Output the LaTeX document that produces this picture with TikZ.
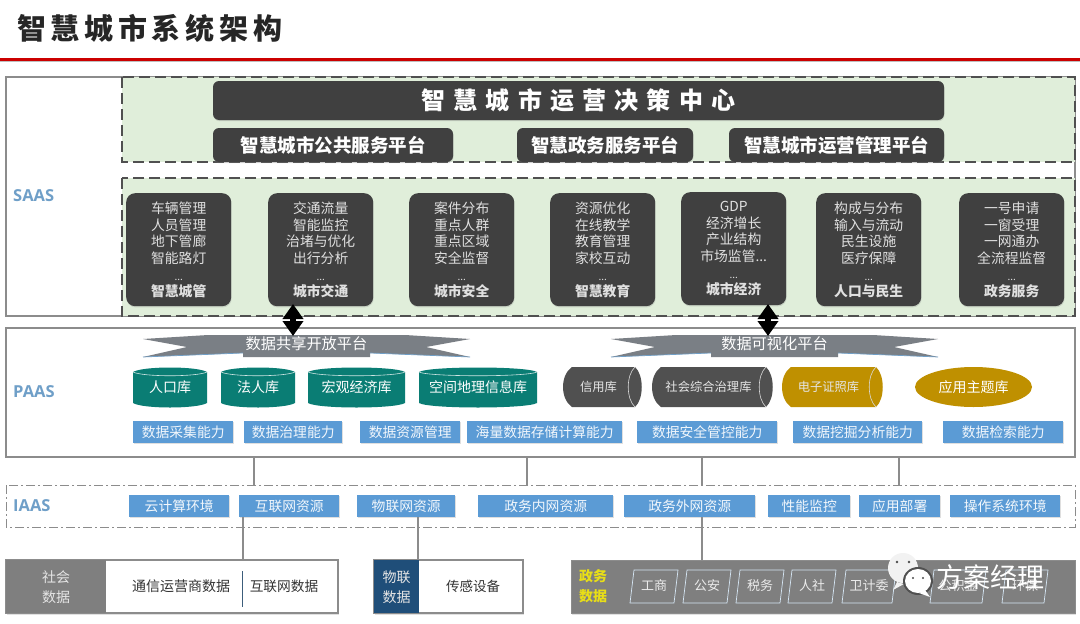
\documentclass[tikz,border=0pt]{standalone}
\usepackage{fontspec}
\setmainfont{Noto Sans CJK SC}
\newfontfamily\latinf{Open Sans}
\usetikzlibrary{shapes.geometric,arrows.meta,calc,shadows}
\definecolor{dk}{HTML}{404040}
\definecolor{grn}{HTML}{E0EEDA}
\definecolor{teal1}{HTML}{0A7D74}
\definecolor{gold1}{HTML}{BF9000}
\definecolor{blu}{HTML}{5B9BD5}
\definecolor{lab}{HTML}{6F9FC8}
\definecolor{frameg}{HTML}{8C8C8C}
\definecolor{navy1}{HTML}{1F4E79}
\definecolor{gr1}{HTML}{7F7F7F}
\definecolor{gr2}{HTML}{505050}
\definecolor{bang}{HTML}{7A7F85}
\tikzset{
 px/.style={x=1pt,y=-1pt},
 layerbox/.style={draw=frameg,line width=1.3pt,fill=white},
 greenbox/.style={draw=gr2,line width=1.3pt,fill=grn,dash pattern=on 11pt off 5pt},
 dkbox/.style={rounded corners=6pt,fill=dk,text=white,inner sep=0,font=\bfseries,drop shadow={shadow xshift=0.5pt,shadow yshift=-1.2pt,opacity=.25}},
 card/.style={rounded corners=9pt,fill=dk,text=white!88!black,inner sep=0,minimum width=105pt,minimum height=113pt,font=\fontsize{13.8}{16.5}\selectfont,align=center,anchor=north west,drop shadow={shadow xshift=0.5pt,shadow yshift=-1.2pt,opacity=.25}},
 bl/.style={fill=blu,text=white!92!blu,inner sep=0,anchor=north west,font=\fontsize{13.8}{15}\selectfont,drop shadow={shadow xshift=0.5pt,shadow yshift=-1pt,opacity=.25}},
 lname/.style={text=lab,font=\latinf\bfseries\fontsize{16.5}{18}\selectfont,anchor=west,inner sep=0},
 cyltxt/.style={text=white,inner sep=0,font=\fontsize{14}{15}\selectfont},
 link/.style={draw=frameg,line width=1.6pt},
 dbl/.style={line width=6pt,{Triangle[length=15pt,width=20pt]}-{Triangle[length=15pt,width=20pt]}},
 para/.style={draw=white!75!blu,line width=.7pt},
 ptxt/.style={text=white!92!black,inner sep=0,font=\fontsize{13}{15}\selectfont},
 dtxt/.style={inner sep=0,text=black!80},
}
\newcommand{\bx}[6][]{\node[#2,#1,minimum width=#5pt-#3pt,minimum height=#6pt-#4pt] at ({(#3+#5)/2},{(#4+#6)/2})}
\begin{document}
\begin{tikzpicture}[px]
\useasboundingbox (0,0) rectangle (1080,624);
\fill[white] (0,0) rectangle (1080,624);
% title
\node[inner sep=0,anchor=west,text=black!85,font=\bfseries\fontsize{29}{32}\selectfont] (title) at (17,28) {智\hspace{4.7pt}慧\hspace{4.7pt}城\hspace{4.7pt}市\hspace{4.7pt}系\hspace{4.7pt}统\hspace{4.7pt}架\hspace{4.7pt}构};
\fill[black!25] (0,60) rectangle (1080,62);
\fill[red!80!black] (0,58) rectangle (1080,60.5);
% SAAS
\draw[layerbox] (6,77) rectangle (1075,316);
\node[lname] (saas) at (13,196) {SAAS};
\draw[greenbox] (122,77) rectangle (1075,162);
\draw[greenbox] (122,178) rectangle (1075,316);
\bx[name=bigc,font=\bfseries\fontsize{24}{28}\selectfont]{dkbox}{213}{81}{944}{120} {智\hspace{8.2pt}慧\hspace{8.2pt}城\hspace{8.2pt}市\hspace{8.2pt}运\hspace{8.2pt}营\hspace{8.2pt}决\hspace{8.2pt}策\hspace{8.2pt}中\hspace{8.2pt}心};
\bx[name=p1,font=\bfseries\fontsize{18.5}{22}\selectfont]{dkbox}{213}{128}{453}{162} {智慧城市公共服务平台};
\bx[name=p2,font=\bfseries\fontsize{18.5}{22}\selectfont]{dkbox}{517}{128}{693}{162} {智慧政务服务平台};
\bx[name=p3,font=\bfseries\fontsize{18.5}{22}\selectfont]{dkbox}{729}{128}{944}{162} {智慧城市运营管理平台};
\newcommand{\cardtxt}[6]{#1\\#2\\#3\\#4\\[1pt]{\fontsize{10}{11}\selectfont #5}\\[-1pt]{\bfseries #6}}
\node[card] (c1) at (126,193) {\cardtxt{车辆管理}{人员管理}{地下管廊}{智能路灯}{...}{智慧城管}};
\node[card] (c2) at (268,193) {\cardtxt{交通流量}{智能监控}{治堵与优化}{出行分析}{...}{城市交通}};
\node[card] (c3) at (409,193) {\cardtxt{案件分布}{重点人群}{重点区域}{安全监督}{...}{城市安全}};
\node[card] (c4) at (550,193) {\cardtxt{资源优化}{在线教学}{教育管理}{家校互动}{...}{智慧教育}};
\node[card] (c5) at (681,192) {\cardtxt{GDP}{经济增长}{产业结构}{市场监管...}{...}{城市经济}};
\node[card] (c6) at (816,193) {\cardtxt{构成与分布}{输入与流动}{民生设施}{医疗保障}{...}{人口与民生}};
\node[card] (c7) at (959,193) {\cardtxt{一号申请}{一窗受理}{一网通办}{全流程监督}{...}{政务服务}};
% PAAS
\draw[layerbox] (6,328) rectangle (1075,457);
\node[lname] (paas) at (13,392) {PAAS};
% banners
\newcommand{\banner}[2]{%
 \fill[bang,xshift=#1pt] (0,339) -- (65,335) -- (262,335) -- (327,339) -- (283,347) -- (327,357) -- (227,353) -- (227,357)-- (100,357) -- (100,353) -- (0,357) -- (44,347) -- cycle;
 \draw[lab,line width=.7pt,xshift=#1pt] (0,357) -- (100,353) (227,353) -- (327,357);
 \node[text=white,inner sep=0,font=\fontsize{15.2}{17}\selectfont] (#2) at (#1+163.5,344)}
\banner{143}{b1} {数据共享开放平台};
\banner{611}{b2} {数据可视化平台};
% cylinders
\newcommand{\tcyl}[4]{%
 \fill[teal1] (#2,372) .. controls (#2+10,366) and (#3-10,366) .. (#3,372) -- (#3,403) .. controls (#3-10,409) and (#2+10,409) .. (#2,403) -- cycle;
 \draw[white!80!teal1,line width=.6pt] (#2,372) .. controls (#2+10,377) and (#3-10,377) .. (#3,372);
 \node[cyltxt] (#1) at ({(#2+#3)/2},387) {#4};}
\tcyl{d1}{133}{207}{人口库}
\tcyl{d2}{221}{295}{法人库}
\tcyl{d3}{308}{405}{宏观经济库}
\tcyl{d4}{419}{537}{空间地理信息库}
\newcommand{\hcyl}[5]{% name,x1,x2,color,text
 \fill[#4] (#2+9,367) -- (#3-7,367) .. controls (#3+2,375) and (#3+2,399) .. (#3-7,407) -- (#2+9,407) .. controls (#2-3,399) and (#2-3,375) .. (#2+9,367) -- cycle;
 \draw[white!85!black,line width=.6pt] (#3-7,367) .. controls (#3-16,375) and (#3-16,399) .. (#3-7,407);
 \node[text=white!90!black,inner sep=0,font=\fontsize{12.3}{13}\selectfont] (#1) at ({(#2+#3)/2-4},387) {#5};}
\hcyl{e1}{563}{642}{gr2}{信用库}
\hcyl{e2}{652}{773}{gr2}{社会综合治理库}
\hcyl{e3}{782}{883}{gold1}{电子证照库}
\node[ellipse,fill=gold1,text=white,inner sep=0,minimum width=117pt,minimum height=40pt,font=\fontsize{14}{15}\selectfont] (e4) at (973.5,387) {应用主题库};
% capability boxes
\newcommand{\capbox}[4]{\node[bl,minimum width=#3pt-#2pt,minimum height=22pt] (#1) at (#2,421) {#4};}
\capbox{k1}{133}{233}{数据采集能力}
\capbox{k2}{244}{342}{数据治理能力}
\capbox{k3}{360}{460}{数据资源管理}
\capbox{k4}{467}{622}{海量数据存储计算能力}
\capbox{k5}{637}{777}{数据安全管控能力}
\capbox{k6}{793}{922}{数据挖掘分析能力}
\capbox{k7}{943}{1063}{数据检索能力}
% IAAS
\draw[frameg,line width=.9pt,dash pattern=on 9pt off 3pt on 2pt off 3pt] (6,485) rectangle (1075,527);
\node[lname] (iaas) at (13,506) {IAAS};
\newcommand{\resbox}[4]{\node[bl,minimum width=#3pt-#2pt,minimum height=22pt] (#1) at (#2,495) {#4};}
\resbox{r1}{129}{229}{云计算环境}
\resbox{r2}{239}{339}{互联网资源}
\resbox{r3}{357}{455}{物联网资源}
\resbox{r4}{478}{613}{政务内网资源}
\resbox{r5}{624}{755}{政务外网资源}
\resbox{r6}{768}{850}{性能监控}
\resbox{r7}{859}{940}{应用部署}
\resbox{r8}{950}{1060}{操作系统环境}
% bottom
\fill[black!12] (7,561) rectangle (339,615);
\fill[black!12] (375,561) rectangle (524,615);
\fill[black!12] (572,561) rectangle (1076,615);
\draw[frameg,line width=1.2pt,fill=white] (6,560) rectangle (338,613);
\node[fill=gr1,text=white!90!black,inner sep=0,minimum width=100pt,minimum height=53pt,align=center,anchor=north west,font=\fontsize{14}{20}\selectfont] (s0) at (6,560) {社会\\数据};
\node[dtxt,font=\fontsize{14}{15}\selectfont] (s1) at (181,586) {通信运营商数据};
\node[dtxt,font=\fontsize{13.7}{15}\selectfont] (s2) at (284,586) {互联网数据};
\coordinate (dvt) at (242,571); \coordinate (dvb) at (242,607);
\draw[navy1!70!gray,line width=1pt] (dvt) -- (dvb);
\draw[frameg,line width=1.2pt,fill=white] (374,560) rectangle (523,613);
\node[fill=navy1,text=white!90!black,inner sep=0,minimum width=45pt,minimum height=53pt,align=center,anchor=north west,font=\fontsize{14}{20}\selectfont] (w0) at (374,560) {物联\\数据};
\node[dtxt,font=\fontsize{13.5}{15}\selectfont] (w1) at (473,586) {传感设备};
\node[fill=gr1,draw=frameg,inner sep=0,minimum width=504pt,minimum height=53pt,anchor=north west] (g) at (571,560) {};
\node[text=yellow!90!black,inner sep=0,align=center,font=\bfseries\fontsize{14}{20}\selectfont] (g0) at (593,586) {政务\\数据};
\newcommand{\pg}[4]{\draw[para] (#2,603) -- (#2+4,570) -- (#3,570) -- (#3-4,603) -- cycle;
 \node[ptxt] (#1) at ({(#2+#3)/2},586) {#4};}
\pg{g1}{630}{678}{工商}
\pg{g2}{683}{731}{公安}
\pg{g3}{736}{784}{税务}
\pg{g4}{788}{836}{人社}
\pg{g5}{842}{896}{卫计委}
\pg{g6}{930}{986}{公积金}
\pg{g7}{1002}{1048}{环保}
% links
\coordinate (q1) at (254,457); \coordinate (q2) at (527,457); \coordinate (q3) at (702,457); \coordinate (q4) at (899,457);
\coordinate (i1) at (254,485); \coordinate (i2) at (527,485); \coordinate (i3) at (702,485); \coordinate (i4) at (899,485);
\draw[link] (q1) -- (i1); \draw[link] (q2) -- (i2); \draw[link] (q3) -- (i3); \draw[link] (q4) -- (i4);
\draw[link] (r2.south west) ++(4,0) coordinate (l1) -- (l1 |- s0.north);
\draw[link] (r3.south) ++(12,0) coordinate (l2) -- (l2 |- w0.north);
\draw[link] (r5.south) ++(12.5,0) coordinate (l3) -- (l3 |- g.north);
% arrows
\coordinate (a1t) at (293,304); \coordinate (a1b) at (293,336);
\coordinate (a2t) at (768,304); \coordinate (a2b) at (768,336);
\draw[dbl] (a1t) -- (a1b);
\draw[dbl] (a2t) -- (a2b);
% watermark
\fill[white!95!black] (903,568) circle (15pt);
\fill[white!95!black] (897,582) -- (893,590) -- (904,584) -- cycle;
\fill[gr2] (918,581) ellipse (15pt and 14pt);
\fill[white] (918,581) ellipse (13pt and 12pt);
\fill[white] (925,590) -- (930,597) -- (919,593) -- cycle;
\fill[black!70] (897,562) circle (1.3pt) (909,562) circle (1.3pt) (913,578) circle (1.2pt) (923,578) circle (1.2pt);
\node[text=white,inner sep=0,font=\fontsize{27}{30}\selectfont] (wm) at (990,577) {方案经理};
\end{tikzpicture}
\end{document}
